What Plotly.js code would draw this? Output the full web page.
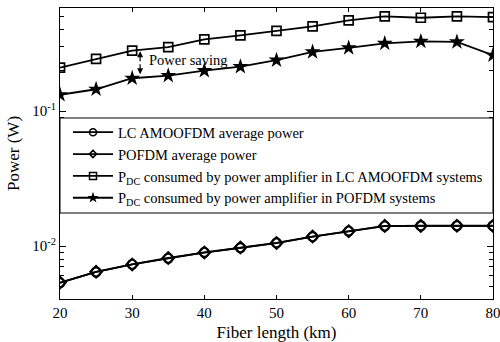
<!DOCTYPE html>
<html>
<head>
<meta charset="utf-8">
<script src="https://cdn.plot.ly/plotly-3.0.1.min.js"></script>
<style>html,body{margin:0;padding:0;background:#fff;}#chart{width:500px;height:342px;}</style>
</head>
<body>
<div id="chart"></div>
<script>
// Fiber length (km)
const fiberLength = [20, 25, 30, 35, 40, 45, 50, 55, 60, 65, 70, 75, 80];
// LC AMOOFDM average power (W)
const lcAvgPower = [0.00534, 0.00642, 0.00732, 0.00811, 0.00898, 0.00971, 0.01057, 0.01172, 0.01291, 0.01406, 0.01413, 0.01413, 0.01413];
// POFDM average power (W)
const pofdmAvgPower = [0.00536, 0.00644, 0.00730, 0.00815, 0.00895, 0.00974, 0.01052, 0.01175, 0.01288, 0.01410, 0.01410, 0.01415, 0.01410];
// P_DC consumed by power amplifier in LC AMOOFDM systems (W)
const pdcLc = [0.2096, 0.2437, 0.280, 0.298, 0.340, 0.364, 0.392, 0.424, 0.470, 0.503, 0.491, 0.503, 0.497];
// P_DC consumed by power amplifier in POFDM systems (W)
const pdcPofdm = [0.132, 0.145, 0.175, 0.183, 0.199, 0.213, 0.238, 0.274, 0.294, 0.317, 0.328, 0.325, 0.259];

const seriesNames = [
  'LC AMOOFDM average power',
  'POFDM average power',
  'P<sub>DC</sub> consumed by power amplifier in LC AMOOFDM systems',
  'P<sub>DC</sub> consumed by power amplifier in POFDM systems'
];
const xTickVals = [20, 30, 40, 50, 60, 70, 80];
const yTickVals = [0.01, 0.1];
const yTickText = ['10<sup>-2</sup>', '10<sup>-1</sup>'];
const yMinorVals = [0.004, 0.005, 0.006, 0.007, 0.008, 0.009, 0.02, 0.03, 0.04, 0.05, 0.06, 0.07, 0.08, 0.09, 0.2, 0.3, 0.4, 0.5];

const FONT = 'Liberation Serif';
const lineStyle = {color: '#000', width: 1.8};

const seriesY = [lcAvgPower, pofdmAvgPower, pdcLc, pdcPofdm];
const plotMarkers = [
  {symbol: 'circle-open', size: 9, color: '#000', line: {width: 2, color: '#000'}},
  {symbol: 'diamond-open', size: 9, color: '#000', line: {width: 2, color: '#000'}},
  {symbol: 'square-open', size: 9, color: '#000', line: {width: 1.7, color: '#000'}},
  {symbol: 'star', size: 12, color: '#000', line: {width: 0, color: '#000'}}
];
const legendMarkers = [
  {symbol: 'circle-open', size: 7, color: '#000', line: {width: 1.6, color: '#000'}},
  {symbol: 'diamond-open', size: 5.5, color: '#000', line: {width: 1.6, color: '#000'}},
  {symbol: 'square-open', size: 7, color: '#000', line: {width: 1.5, color: '#000'}},
  {symbol: 'star', size: 8.5, color: '#000', line: {width: 0, color: '#000'}}
];

const traces = [];
seriesY.forEach((ys, i) => {
  traces.push({x: fiberLength, y: ys, name: seriesNames[i], mode: 'lines+markers',
    line: lineStyle, marker: plotMarkers[i], showlegend: false});
});
seriesY.forEach((ys, i) => {
  traces.push({x: [null], y: [null], name: seriesNames[i], mode: 'lines+markers',
    line: lineStyle, marker: legendMarkers[i], showlegend: true});
});

const arrowX = 31.1;
const logTop = Math.log10(pdcLc[2] * 0.99);
const logBot = Math.log10(pdcPofdm[2] * 1.07);
const logMid = (logTop + logBot) / 2;
const arrowStyle = {xref: 'x', yref: 'y', axref: 'x', ayref: 'y', text: '', showarrow: true,
  arrowhead: 2, arrowsize: 1, arrowwidth: 1.2, arrowcolor: '#000', standoff: 0};

const layout = {
  width: 500, height: 342,
  margin: {l: 60, r: 7, t: 8, b: 43},
  paper_bgcolor: '#fff', plot_bgcolor: '#fff',
  font: {family: FONT, color: '#000', size: 15},
  showlegend: true,
  legend: {
    x: 0.0185, y: 0.628, xanchor: 'left', yanchor: 'top',
    bgcolor: 'rgba(0,0,0,0)', borderwidth: 0,
    font: {family: FONT, size: 14.5, color: '#000'},
    itemwidth: 40, tracegroupgap: 0
  },
  xaxis: {
    range: [20, 80], tickmode: 'array', tickvals: xTickVals,
    ticks: 'inside', ticklen: 4, tickwidth: 1, tickcolor: '#000',
    showline: true, linecolor: '#000', linewidth: 1, mirror: 'ticks',
    showgrid: false, zeroline: false, ticklabeloverflow: 'allow',
    tickfont: {family: FONT, size: 15},
    title: {text: 'Fiber length (km)', font: {family: FONT, size: 17}, standoff: 6}
  },
  yaxis: {
    type: 'log', range: [Math.log10(0.00405), Math.log10(0.58)],
    tickmode: 'array', tickvals: yTickVals, ticktext: yTickText,
    ticks: 'inside', ticklen: 6, tickwidth: 1, tickcolor: '#000',
    minor: {tickmode: 'array', tickvals: yMinorVals, ticks: 'inside', ticklen: 4, tickwidth: 1, tickcolor: '#000', showgrid: false},
    showline: true, linecolor: '#000', linewidth: 1, mirror: 'ticks',
    showgrid: false, zeroline: false,
    tickfont: {family: FONT, size: 15},
    title: {text: 'Power (W)', font: {family: FONT, size: 17}, standoff: 8}
  },
  shapes: [
    {type: 'rect', xref: 'paper', yref: 'paper', x0: 0, x1: 1, y0: 0.2955, y1: 0.622,
     fillcolor: '#fff', line: {color: '#000', width: 1}, layer: 'above'}
  ],
  annotations: [
    Object.assign({}, arrowStyle, {x: arrowX, y: logTop, ax: arrowX, ay: logMid}),
    Object.assign({}, arrowStyle, {x: arrowX, y: logBot, ax: arrowX, ay: logMid}),
    {xref: 'x', yref: 'y', x: 37.8, y: Math.log10(Math.sqrt(pdcLc[2] * pdcPofdm[2]) * 1.08),
     text: 'Power saving', showarrow: false, font: {family: FONT, size: 14.5, color: '#000'}}
  ]
};

Plotly.newPlot('chart', traces, layout, {displayModeBar: false, staticPlot: true});
</script>
</body>
</html>
